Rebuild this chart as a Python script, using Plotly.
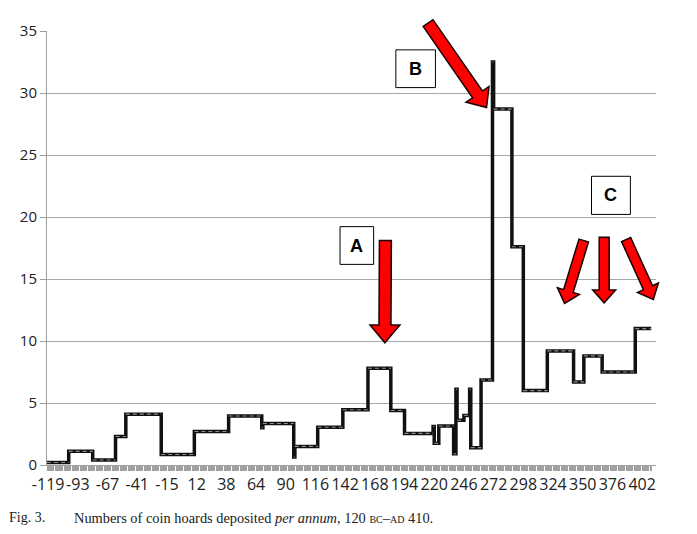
import math
import plotly.graph_objects as go

# ---------------- data ----------------
# year where a new level starts, and the number of hoards per annum from then on
break_years = [-120, -101, -80, -60, -51, -20, 10, 40, 69, 70, 97, 98, 118, 140, 162,
               182, 194, 219, 220, 224, 237, 239, 240, 246, 251, 252, 261, 271, 272,
               288, 298, 319, 342, 351, 367, 396, 410]
hoards = [0.2, 1.1, 0.4, 2.3, 4.1, 0.85, 2.7, 3.95, 3.0, 3.35, 0.65, 1.5, 3.05, 4.45, 7.8,
          4.4, 2.55, 3.1, 1.75, 3.15, 0.9, 6.1, 3.6, 4.0, 6.1, 1.4, 6.85, 32.5, 28.7,
          17.6, 6.0, 9.2, 6.7, 8.8, 7.5, 11.0, 11.0]

# every year on the axis (there is no year 0)
years = [y for y in range(-120, 411) if y != 0]
tick_label_years = [-119, -93, -67, -41, -15, 12, 38, 64, 90, 116, 142, 168, 194,
                    220, 246, 272, 298, 324, 350, 376, 402]
y_ticks = [0, 5, 10, 15, 20, 25, 30, 35]

caption_fig = "Fig. 3."
caption_text = ("Numbers of coin hoards deposited <i>per annum</i>, 120 "
                "<span style='font-size:10px'>BC</span>–<span style='font-size:10px'>AD</span> 410.")

# ---------------- figure ----------------
# the page body has an 8px margin, so the figure sits at (8, 8) in the window
OFF = 8
W, H = 681, 518
ML, MT = 37, 20
PW, PH = 611, 437
MR = W - ML - PW
MB = H - MT - PH

cats = [str(y) for y in years]
xs = [str(y) for y in break_years]

fig = go.Figure()
fig.add_trace(go.Scatter(x=xs, y=hoards, mode="lines", line_shape="hv",
                         line=dict(color="#111111", width=3.5), hoverinfo="skip",
                         showlegend=False))

# lighter dashes inside the horizontal runs
dx, dy = [], []
for i in range(len(break_years) - 1):
    dx += [xs[i], xs[i + 1], None]
    dy += [hoards[i], hoards[i], None]
fig.add_trace(go.Scatter(x=dx, y=dy, mode="lines",
                         line=dict(color="#8c8c8c", width=1.1, dash="4px,3px"),
                         hoverinfo="skip", showlegend=False))


def px_to_paper(x, y):
    """window pixel -> paper coordinates"""
    x -= OFF
    y -= OFF
    return (x - ML) / PW, (MT + PH - y) / PH


def arrow_path(tail, tip, shaft_w, head_w, head_len):
    tx, ty = tail
    hx, hy = tip
    L = math.hypot(hx - tx, hy - ty)
    ux, uy = (hx - tx) / L, (hy - ty) / L
    px_, py_ = -uy, ux
    bx, by = hx - ux * head_len, hy - uy * head_len
    pts = [
        (tx + px_ * shaft_w / 2, ty + py_ * shaft_w / 2),
        (bx + px_ * shaft_w / 2, by + py_ * shaft_w / 2),
        (bx + px_ * head_w / 2, by + py_ * head_w / 2),
        (hx, hy),
        (bx - px_ * head_w / 2, by - py_ * head_w / 2),
        (bx - px_ * shaft_w / 2, by - py_ * shaft_w / 2),
        (tx - px_ * shaft_w / 2, ty - py_ * shaft_w / 2),
    ]
    s = ""
    for k, (x, y) in enumerate(pts):
        X, Y = px_to_paper(x, y)
        s += ("M" if k == 0 else "L") + f"{X:.5f},{Y:.5f} "
    return s + "Z"


arrows = [
    ((384.5, 239), (384, 342), 12, 30, 18),
    ((427.3, 20), (486, 105), 12, 28, 16),
    ((583.5, 239), (564.3, 302.3), 10, 23, 13),
    ((604, 235.7), (604, 301.7), 10, 23, 13),
    ((626, 238), (653.3, 298.3), 10, 23, 13),
]
shapes = []
for tail, tip, sw, hw, hl in arrows:
    shapes.append(dict(type="path", xref="paper", yref="paper",
                       path=arrow_path(tail, tip, sw, hw, hl),
                       fillcolor="#ff0000", line=dict(color="#1a0000", width=1.5),
                       layer="above"))

boxes = [("A", 339, 225, 372.7, 263), ("B", 395, 47, 434.7, 85), ("C", 591.3, 174.3, 630.3, 212.7)]
annotations = []
for label, x0, y0, x1, y1 in boxes:
    X0, Y0 = px_to_paper(x0, y0)
    X1, Y1 = px_to_paper(x1, y1)
    shapes.append(dict(type="rect", xref="paper", yref="paper", x0=X0, y0=Y1, x1=X1, y1=Y0,
                       fillcolor="white", line=dict(color="black", width=1), layer="above"))
    annotations.append(dict(xref="paper", yref="paper", x=(X0 + X1) / 2, y=(Y0 + Y1) / 2,
                            text=f"<b>{label}</b>", showarrow=False,
                            font=dict(family="Liberation Sans", size=18, color="black"),
                            xanchor="center", yanchor="middle"))

cx, cy = px_to_paper(5, 518)
annotations.append(dict(xref="paper", yref="paper", x=cx, y=cy, text=caption_fig,
                        showarrow=False, xanchor="left", yanchor="middle",
                        font=dict(family="Liberation Serif", size=14, color="#222")))
cx2, _ = px_to_paper(70, 518)
annotations.append(dict(xref="paper", yref="paper", x=cx2, y=cy, text=caption_text,
                        showarrow=False, xanchor="left", yanchor="middle",
                        font=dict(family="Liberation Serif", size=14.4, color="#222")))

tick_text = [str(y) if y in tick_label_years else "" for y in years]

fig.update_layout(
    width=W, height=H,
    margin=dict(l=ML, r=MR, t=MT, b=MB),
    paper_bgcolor="white", plot_bgcolor="white",
    shapes=shapes, annotations=annotations,
    xaxis=dict(type="category", categoryorder="array", categoryarray=cats,
               range=[0, PW / 1.146], tickmode="array", tickvals=cats, ticktext=tick_text,
               tickangle=0, ticks="outside", ticklen=5, tickwidth=0.6, tickcolor="#a0a0a0",
               showgrid=False, showline=True, linecolor="#a0a0a0", linewidth=1,
               zeroline=False,
               tickfont=dict(family="Open Sans", size=16, color="#222")),
    yaxis=dict(range=[0, 35], tickmode="array", tickvals=y_ticks,
               ticks="outside", ticklen=6, tickcolor="#a0a0a0",
               showgrid=True, gridcolor="#a8a8a8", gridwidth=1,
               showline=True, linecolor="#a0a0a0", linewidth=1, zeroline=False,
               tickfont=dict(family="Open Sans", size=15, color="#222")),
)

fig.write_html("out.html")
